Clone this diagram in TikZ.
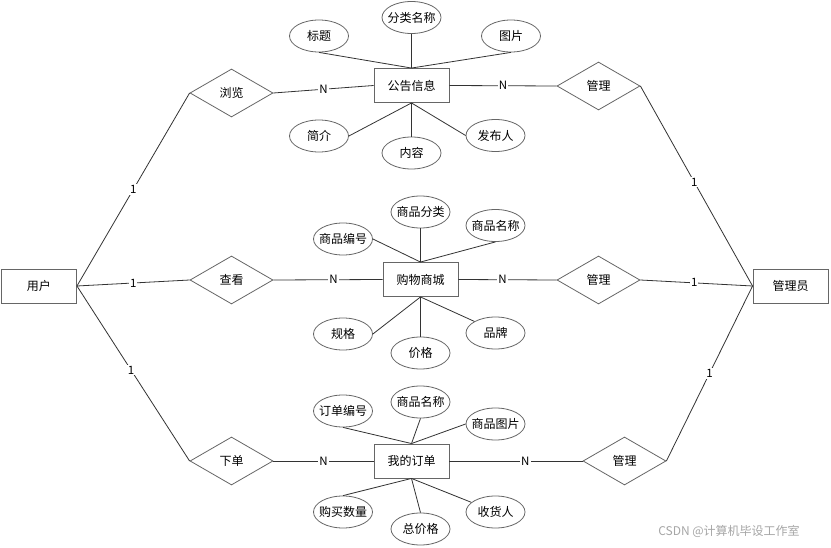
\documentclass[tikz,border=0pt]{standalone}
\usepackage{fontspec}
\setmainfont{Noto Sans CJK SC}
\usetikzlibrary{shapes.geometric}
\begin{document}
\begin{tikzpicture}[x=1pt,y=-1pt,
  every node/.style={font=\fontsize{12}{14}\selectfont},
  ent/.style={draw=black!60,line width=0.9pt,rectangle,minimum width=75pt,minimum height=34pt,inner sep=0pt},
  rel/.style={draw=black!60,line width=0.8pt,diamond,aspect=1.73,minimum width=83pt,minimum height=48pt,inner sep=0pt},
  attr/.style={draw=black!60,line width=0.8pt,ellipse,minimum width=59pt,minimum height=32pt,inner xsep=-4pt,inner ysep=0pt},
  conn/.style={draw=black!80,line width=0.8pt},
  card/.style={fill=white,inner sep=1pt,font=\fontsize{11.5}{13}\selectfont}]
\useasboundingbox (0,0) rectangle (831,548);
\fill[white] (0,0) rectangle (831,548);
% entities
\node[ent] (user) at (39,286) {用户};
\node[ent] (admin) at (790.5,286) {管理员};
\node[ent] (notice) at (411.5,85.5) {公告信息};
\node[ent] (mall) at (420.5,279.5) {购物商城};
\node[ent] (order) at (411.5,461) {我的订单};
% relationships
\node[rel] (browse) at (231.5,93) {浏览};
\node[rel] (view) at (231.5,280) {查看};
\node[rel] (place) at (231.5,461) {下单};
\node[rel] (m1) at (598.5,86) {管理};
\node[rel] (m2) at (598.5,280) {管理};
\node[rel] (m3) at (624.5,461) {管理};
% notice attributes
\node[attr] (n1) at (319,36) {标题};
\node[attr] (n2) at (411.5,17.5) {分类名称};
\node[attr] (n3) at (511,36) {图片};
\node[attr] (n4) at (319,136) {简介};
\node[attr] (n5) at (411.5,153) {内容};
\node[attr] (n6) at (495.5,135.5) {发布人};
% mall attributes
\node[attr] (g1) at (343,239) {商品编号};
\node[attr] (g2) at (420.5,212) {商品分类};
\node[attr] (g3) at (495.5,225.5) {商品名称};
\node[attr] (g4) at (343,334) {规格};
\node[attr] (g5) at (420.5,353) {价格};
\node[attr] (g6) at (495.5,333) {品牌};
% order attributes
\node[attr] (o1) at (343,411) {订单编号};
\node[attr] (o2) at (420.5,402) {商品名称};
\node[attr] (o3) at (495.5,424) {商品图片};
\node[attr] (o4) at (343,512) {购买数量};
\node[attr] (o5) at (420.5,529) {总价格};
\node[attr] (o6) at (495.5,512) {收货人};
% attribute lines
\draw[conn] (n1.south) -- (notice.north);
\draw[conn] (n2.south) -- (notice.north);
\draw[conn] (n3.south) -- (notice.north);
\draw[conn] (n4.east) -- (notice.south);
\draw[conn] (n5.north) -- (notice.south);
\draw[conn] (n6.west) -- (notice.south);
\draw[conn] (g1.east) -- (mall.north);
\draw[conn] (g2.south) -- (mall.north);
\draw[conn] (g3.south) -- (mall.north);
\draw[conn] (g4.east) -- (mall.south);
\draw[conn] (g5.north) -- (mall.south);
\draw[conn] (g6.north west) -- (mall.south);
\draw[conn] (o1.south) -- (order.north);
\draw[conn] (o2.south) -- (order.north);
\draw[conn] (o3.west) -- (order.north);
\draw[conn] (o4.north) -- (order.south);
\draw[conn] (o5.north) -- (order.south);
\draw[conn] (order.south) -- (o6);
% relationship lines
\draw[conn] (browse.east) -- node[card,pos=0.5]{N} (notice.west);
\draw[conn] (notice.east) -- node[card,pos=0.5]{N} (m1.west);
\draw[conn] (view.east) -- node[card,pos=0.55]{N} (mall.west);
\draw[conn] (mall.east) -- node[card,pos=0.45]{N} (m2.west);
\draw[conn] (place.east) -- node[card,pos=0.5]{N} (order.west);
\draw[conn] (order.east) -- node[card,pos=0.57]{N} (m3.west);
\draw[conn] (user.east) -- node[card,pos=0.5]{1} (browse.west);
\draw[conn] (user.east) -- node[card,pos=0.5]{1} (view.west);
\draw[conn] (user.east) -- node[card,pos=0.48]{1} (place.west);
\draw[conn] (m1.east) -- node[card,pos=0.48]{1} (admin.west);
\draw[conn] (m2.east) -- node[card,pos=0.48]{1} (admin.west);
\draw[conn] (m3.east) -- node[card,pos=0.5]{1} (admin.west);
% watermark
\node[text=black!35,font=\fontsize{12}{14}\selectfont] (wm) at (729,531) {CSDN @计算机毕设工作室};
\end{tikzpicture}
\end{document}
